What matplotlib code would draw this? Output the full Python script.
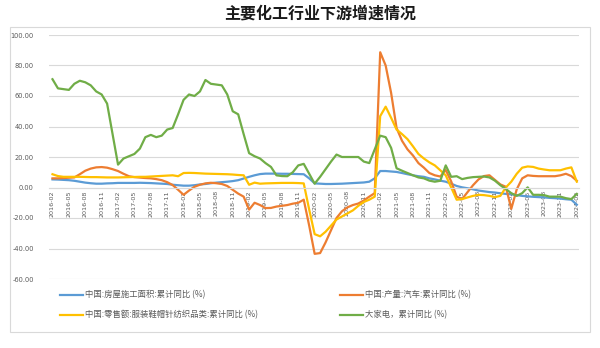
import matplotlib
matplotlib.use("Agg")
import matplotlib.pyplot as plt
from matplotlib.patches import Rectangle
from matplotlib.lines import Line2D
import pandas as pd
import numpy as np

plt.rcParams['font.family'] = ['Noto Sans CJK SC', 'DejaVu Sans']

months = pd.period_range('2016-02', '2024-02', freq='M').strftime('%Y-%m').tolist()

housing = [5.3, 5.2, 5.0, 4.8, 4.4, 3.8, 3.2, 2.8, 2.5, 2.5,
           2.7, 2.8, 3.0, 3.0, 3.0, 3.0, 3.1, 3.0, 2.9, 2.7,
           2.5, 2.3, 1.8, 1.5, 1.2, 1.2, 1.5, 2.0, 2.3, 2.8,
           3.2, 3.5, 3.8, 4.2, 4.8, 5.9, 7.0, 8.0, 8.8, 9.1,
           9.1, 9.1, 9.0, 9.0, 8.9, 8.8, 8.7, 6.0, 2.7, 2.5,
           2.3, 2.3, 2.4, 2.5, 2.7, 2.9, 3.1, 3.3, 3.8, 6.0,
           10.8, 10.8, 10.5, 10.2, 9.5, 8.7, 8.0, 7.4, 7.0, 6.0,
           5.3, 4.5, 3.8, 2.5, 1.0, 0.1, -0.5, -1.2, -2.0, -2.5,
           -3.0, -3.3, -3.8, -4.2, -4.5, -5.0, -5.5, -5.8, -6.1, -6.3,
           -6.5, -6.8, -7.0, -7.3, -7.7, -8.0, -11.3]

autos = [6.0, 6.0, 6.2, 6.4, 6.6, 8.7, 11.0, 12.4, 13.2, 13.4,
         13.0, 12.0, 10.8, 9.0, 7.4, 6.8, 6.5, 6.2, 6.0, 5.5,
         4.8, 3.5, 1.6, -1.5, -4.8, -2.0, 0.5, 1.8, 2.7, 3.1,
         2.8, 2.3, 1.0, -1.5, -4.0, -6.0, -14.5, -10.0, -11.5, -13.5,
         -13.4, -12.5, -12.0, -11.5, -10.6, -10.0, -8.0, -25.0, -43.5, -43.0,
         -36.0, -28.0, -20.0, -15.6, -13.0, -11.5, -10.5, -8.5, -6.0, -3.7,
         88.7, 80.0, 62.0, 39.0, 30.6, 25.0, 21.0, 16.0, 13.0, 9.5,
         8.0, 7.2, 11.5, 4.0, -6.0, -7.6, -3.0, 1.5, 5.3, 7.5,
         8.0, 5.0, 2.0, 0.5, -14.0, -1.2, 6.0, 8.0, 7.6, 7.4,
         7.4, 7.4, 7.4, 8.0, 9.0, 7.5, 4.4]

apparel = [8.7, 7.5, 7.0, 7.0, 7.0, 7.0, 6.9, 6.8, 6.8, 6.7,
           6.6, 6.6, 6.6, 6.7, 6.8, 6.9, 7.0, 7.0, 7.2, 7.4,
           7.6, 7.8, 8.0, 7.4, 9.5, 9.6, 9.5, 9.3, 9.1, 9.0,
           8.9, 8.8, 8.7, 8.5, 8.2, 8.0, 1.8, 3.2, 2.5, 2.7,
           2.8, 2.9, 3.0, 3.0, 3.0, 2.9, 2.7, -14.5, -30.6, -32.0,
           -29.0, -25.0, -21.0, -19.0, -17.0, -15.0, -12.0, -9.5, -8.0, -6.0,
           46.8, 53.0, 45.7, 38.0, 35.0, 31.7, 27.0, 22.0, 19.0, 16.5,
           14.5, 11.3, 8.0, 0.0, -8.0, -7.6, -6.5, -5.5, -4.8, -5.0,
           -5.5, -6.3, -5.5, 0.0, 3.8, 9.0, 13.0, 13.8, 13.5, 12.4,
           11.8, 11.3, 11.3, 11.3, 12.4, 13.2, 3.8]

appliance = [71.0, 65.0, 64.5, 64.0, 68.0, 70.0, 69.0, 67.0, 63.0, 61.0,
             55.0, 35.0, 15.0, 19.0, 20.5, 22.0, 25.5, 33.0, 34.5, 33.0,
             34.0, 38.0, 39.0, 48.0, 57.5, 61.0, 60.0, 63.0, 70.5, 68.0,
             67.5, 67.0, 61.0, 50.0, 48.0, 35.0, 22.5, 20.5, 19.0, 16.0,
             13.5, 8.0, 7.5, 7.4, 10.0, 14.5, 15.5, 9.0, 2.5, 7.0,
             12.0, 17.0, 21.6, 20.0, 20.0, 20.0, 20.0, 17.0, 16.0, 25.0,
             34.0, 33.0, 26.0, 12.6, 11.0, 9.5, 8.0, 6.6, 6.0, 4.5,
             3.8, 4.4, 14.5, 7.0, 7.4, 5.5, 6.3, 6.8, 7.0, 7.2,
             6.6, 4.5, 1.5, -1.0, -3.7, -5.5, -3.7, 0.1, -4.8, -4.8,
             -5.0, -6.0, -6.0, -6.0, -7.0, -7.6, -4.2]

labels = ['中国:房屋施工面积:累计同比 (%)', '中国:产量:汽车:累计同比 (%)',
          '中国:零售额:服装鞋帽针纺织品类:累计同比 (%)', '大家电，累计同比 (%)']
colors = ['#5B9BD5', '#ED7D31', '#FFC000', '#70AD47']
title = '主要化工行业下游增速情况'

W, H = 600, 348
fig = plt.figure(figsize=(W / 100, H / 100), dpi=100)

# chart frame
fig.patches.append(Rectangle((10 / W, 1 - 332 / H), 580 / W, 305 / H,
                             transform=fig.transFigure, fill=False,
                             edgecolor='#d9d9d9', linewidth=0.8))

ax = fig.add_axes([49 / W, 1 - 279 / H, 530 / W, 244 / H])
x = np.arange(len(months))
lines = []
for series, c in zip([housing, autos, apparel, appliance], colors):
    ln, = ax.plot(x, series, color=c, linewidth=1.6, solid_joinstyle='round')
    lines.append(ln)

ax.set_xlim(-0.64, 96.4)
ax.set_ylim(-60, 100)
ax.set_yticks(np.arange(-60, 101, 20))
ax.set_yticklabels([f'{v:.2f}' for v in np.arange(-60, 101, 20)])
ax.grid(axis='y', color='#d9d9d9', linewidth=0.8)
ax.set_axisbelow(True)
for s in ['top', 'right', 'left']:
    ax.spines[s].set_visible(False)
ax.spines['bottom'].set_position(('data', 0))
ax.spines['bottom'].set_color('#d9d9d9')
ax.spines['bottom'].set_linewidth(0.8)
ax.set_xticks(x[::3])
ax.set_xticklabels(months[::3], rotation=90)
ax.tick_params(axis='x', length=0, pad=2, labelsize=4.6, labelcolor='#595959')
ax.tick_params(axis='y', length=0, pad=11, labelsize=4.8, labelcolor='#595959')
for t in ax.get_xticklabels() + ax.get_yticklabels():
    t.set_family('DejaVu Sans')

fig.text(320 / W, 1 - 14 / H, title, ha='center', va='center',
         fontsize=11.5, fontweight='bold', color='#1a1a1a')

# legend entries
pos = [(60, 295), (340, 295), (60, 315), (340, 315)]
for ln, lab, (px, py) in zip(lines, labels, pos):
    leg = fig.legend(handles=[ln], labels=[lab], loc='center left',
                     bbox_to_anchor=(px / W, 1 - py / H), frameon=False,
                     borderpad=0, borderaxespad=0, handlelength=2.8,
                     handletextpad=0.15, fontsize=6)
    for t in leg.get_texts():
        t.set_color('#595959')

fig.savefig('out.png', dpi=100)
